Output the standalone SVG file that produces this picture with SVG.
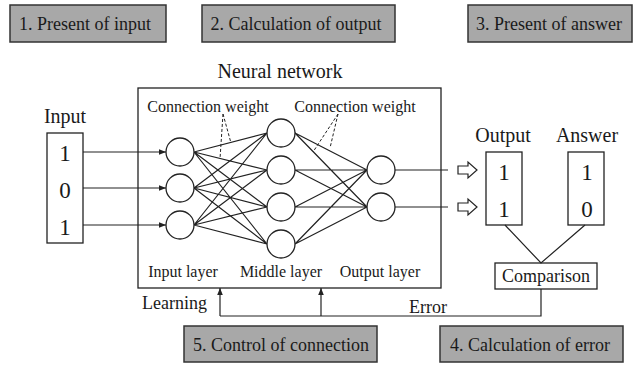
<svg xmlns="http://www.w3.org/2000/svg" width="636" height="365" viewBox="0 0 636 365" font-family="'Liberation Serif', 'Times New Roman', 'DejaVu Serif', serif">
  <style>
    text { font-family: 'Liberation Serif', 'Times New Roman', 'DejaVu Serif', serif; fill: #1a1a1a; }
    .step { fill: #a8a8a8; stroke: #333; stroke-width: 1.5; }
    .box { fill: #fff; stroke: #222; stroke-width: 1.3; }
    .neuron { fill: #fff; stroke: #222; stroke-width: 1.3; }
    .ln { fill: none; stroke: #222; stroke-width: 1.2; }
    .dash { fill: none; stroke: #222; stroke-width: 1; stroke-dasharray: 3 2; }
    .t18 { font-size: 18px; }
    .t16 { font-size: 16px; }
    .t20 { font-size: 20px; }
    .num { font-size: 23px; }
    .mid { text-anchor: middle; }
  </style>
  <defs>
    <marker id="tri" viewBox="0 0 10 10" refX="10" refY="5" markerWidth="7" markerHeight="7" markerUnits="userSpaceOnUse" orient="auto">
      <path d="M0,1 L10,5 L0,9 Z" fill="#222"/>
    </marker>
  </defs>

  <!-- step labels -->
  <g id="step1"><rect class="step" x="10" y="5" width="156" height="37"/><text class="t18 mid" x="85" y="30">1. Present of input</text></g>
  <g id="step2"><rect class="step" x="202" y="5" width="193" height="37"/><text class="t18 mid" x="296" y="30">2. Calculation of output</text></g>
  <g id="step3"><rect class="step" x="468" y="5" width="164" height="37"/><text class="t18 mid" x="549" y="30">3. Present of answer</text></g>
  <g id="step5"><rect class="step" x="184" y="326" width="193" height="36"/><text class="t18 mid" x="281" y="351">5. Control of connection</text></g>
  <g id="step4"><rect class="step" x="440" y="326" width="183" height="36"/><text class="t18 mid" x="530" y="351">4. Calculation of error</text></g>

  <!-- neural network frame -->
  <g id="network">
    <text class="t20 mid" x="280" y="78">Neural network</text>
    <rect class="box" x="138" y="88" width="303" height="200"/>
    <text class="t16 mid" x="208" y="112">Connection weight</text>
    <text class="t16 mid" x="355" y="112">Connection weight</text>
    <text class="t16 mid" x="183" y="277">Input layer</text>
    <text class="t16 mid" x="281" y="277">Middle layer</text>
    <text class="t16 mid" x="380" y="277">Output layer</text>
  </g>

  <!-- input vector -->
  <g id="input">
    <text class="t20 mid" x="65" y="123">Input</text>
    <rect class="box" x="47" y="133" width="36" height="110"/>
    <text class="num mid" x="65" y="161">1</text>
    <text class="num mid" x="65" y="198">0</text>
    <text class="num mid" x="65" y="235">1</text>
  </g>

  <!-- output vector -->
  <g id="output">
    <text class="t20 mid" x="503" y="142">Output</text>
    <rect class="box" x="486" y="152" width="36" height="73"/>
    <text class="num mid" x="504" y="180">1</text>
    <text class="num mid" x="504" y="217">1</text>
  </g>

  <!-- answer vector -->
  <g id="answer">
    <text class="t20 mid" x="587" y="142">Answer</text>
    <rect class="box" x="568" y="152" width="36" height="73"/>
    <text class="num mid" x="587" y="180">1</text>
    <text class="num mid" x="587" y="217">0</text>
  </g>

  <!-- comparison -->
  <g id="comparison">
    <rect class="box" x="495" y="263" width="102" height="26"/>
    <text class="t18 mid" x="546" y="282">Comparison</text>
  </g>

  <!-- connectors -->
  <g id="connectors">
    <!-- input values into input layer -->
    <line class="ln" x1="83" y1="152" x2="166" y2="152" marker-end="url(#tri)"/>
    <line class="ln" x1="83" y1="188" x2="166" y2="188" marker-end="url(#tri)"/>
    <line class="ln" x1="83" y1="225" x2="166" y2="225" marker-end="url(#tri)"/>

    <!-- input layer to middle layer -->
    <path class="ln" d="
      M194,152 L267,133 M194,152 L267,170 M194,152 L267,207 M194,152 L267,244
      M194,188 L267,133 M194,188 L267,170 M194,188 L267,207 M194,188 L267,244
      M194,225 L267,133 M194,225 L267,170 M194,225 L267,207 M194,225 L267,244"/>

    <!-- middle layer to output layer -->
    <path class="ln" d="
      M295,133 L367,170 M295,133 L367,207
      M295,170 L367,170 M295,170 L367,207
      M295,207 L367,170 M295,207 L367,207
      M295,244 L367,170 M295,244 L367,207"/>

    <!-- weight pointers -->
    <path class="dash" d="M223,114 L231,143 M223,114 L220,159"/>
    <path class="dash" d="M338,114 L313,152 M338,114 L330,148"/>

    <!-- output layer lines -->
    <path class="ln" d="M395,170 H448 M395,207 H448"/>

    <!-- hollow transfer arrows -->
    <path class="ln" fill="#fff" d="M458,166 H468 V162 L477,170 L468,178 V174 H458 Z"/>
    <path class="ln" fill="#fff" d="M458,203 H468 V199 L477,207 L468,215 V211 H458 Z"/>

    <!-- to comparison -->
    <path class="ln" d="M505,225 L541,263 L585,225"/>

    <!-- error feedback -->
    <path class="ln" d="M541,289 V316 H220"/>
    <line class="ln" x1="220" y1="316" x2="220" y2="288" marker-end="url(#tri)"/>
    <line class="ln" x1="321" y1="316" x2="321" y2="288" marker-end="url(#tri)"/>
    <text class="t18" x="142" y="309">Learning</text>
    <text class="t18" x="409" y="313">Error</text>
  </g>

  <!-- neurons -->
  <g id="input-layer">
    <circle class="neuron" cx="180" cy="152" r="14"/>
    <circle class="neuron" cx="180" cy="188" r="14"/>
    <circle class="neuron" cx="180" cy="225" r="14"/>
  </g>
  <g id="middle-layer">
    <circle class="neuron" cx="281" cy="133" r="14"/>
    <circle class="neuron" cx="281" cy="170" r="14"/>
    <circle class="neuron" cx="281" cy="207" r="14"/>
    <circle class="neuron" cx="281" cy="244" r="14"/>
  </g>
  <g id="output-layer">
    <circle class="neuron" cx="381" cy="170" r="14"/>
    <circle class="neuron" cx="381" cy="207" r="14"/>
  </g>
</svg>
